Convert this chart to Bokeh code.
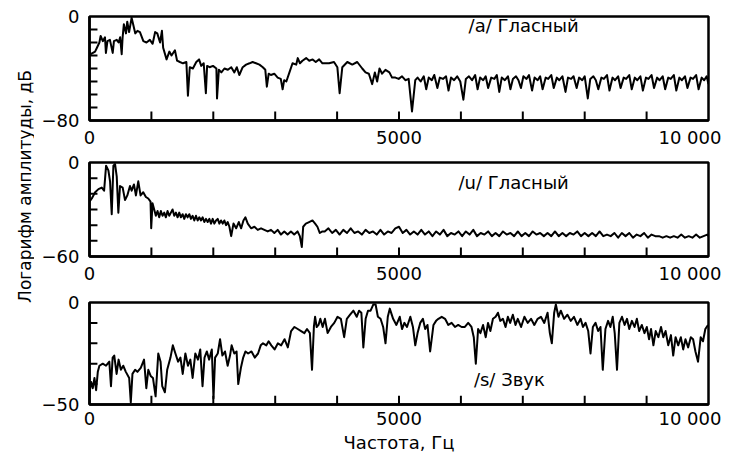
import math

from bokeh.core.properties import value
from bokeh.embed import file_html
from bokeh.layouts import column, row
from bokeh.models import FixedTicker, Label, Range1d
from bokeh.plotting import figure
from bokeh.resources import INLINE

FONT = "DejaVu Sans"

# Spectrum of the vowel /a/: frequency (Hz) and log amplitude (dB)
a_freq = [
    0, 20, 90, 120, 160, 180, 215, 250, 265, 290, 330, 375, 395, 440, 470, 495,
    520, 535, 555, 590, 610, 640, 680, 705, 740, 775, 815, 870, 920, 975, 1020,
    1060, 1095, 1140, 1170, 1190, 1245, 1290, 1325, 1380, 1415, 1460, 1510, 1565,
    1590, 1620, 1670, 1725, 1770, 1805, 1845, 1880, 1900, 1940, 1995, 2050, 2060,
    2090, 2130, 2180, 2235, 2290, 2340, 2380, 2420, 2475, 2530, 2585, 2635, 2690,
    2745, 2800, 2840, 2865, 2895, 2930, 2985, 3040, 3090, 3120, 3145, 3180, 3230,
    3280, 3340, 3365, 3400, 3440, 3500, 3550, 3605, 3655, 3710, 3763, 3870, 3950,
    4004, 4041, 4084, 4165, 4245, 4325, 4406, 4459, 4513, 4567, 4610, 4647, 4685,
    4727, 4781, 4845, 4888, 4942, 4995, 5049, 5103, 5156, 5210, 5263,
    5300, 5350, 5400, 5440, 5480, 5530, 5570, 5620, 5660, 5710, 5760, 5800, 5840,
    5890, 5940, 5990, 6040, 6080, 6130, 6180, 6230, 6270, 6310, 6360, 6400, 6440,
    6490, 6540, 6580, 6620, 6660, 6710, 6760, 6800, 6840, 6890, 6930, 6970, 7010,
    7060, 7100, 7150, 7190, 7240, 7280, 7320, 7370, 7410, 7460, 7500, 7550, 7590,
    7640, 7690, 7730, 7780, 7820, 7870, 7910, 7960, 8000, 8050, 8090, 8140, 8180,
    8220, 8270, 8310, 8360, 8400, 8450, 8490, 8540, 8580, 8630, 8670, 8720, 8760,
    8810, 8850, 8900, 8940, 8990, 9030, 9080, 9120, 9170, 9210, 9260, 9300, 9350,
    9390, 9440, 9480, 9530, 9570, 9620, 9660, 9710, 9750, 9800, 9840, 9890, 9930,
    9970, 10000,
]
a_db = [
    -27, -29, -27, -24, -20, -15, -19, -16, -28, -19, -18, -28, -19, -18, -20, -16,
    -29, -16, -6, -13, -4, -12, -1, -6, -13, -11, -12, -19, -20, -18, -21,
    -12, -13, -20, -11, -24, -33, -27, -30, -26, -34, -35, -36, -35,
    -61, -39, -40, -35, -33, -38, -36, -59, -38, -39, -38, -40, -63,
    -41, -43, -40, -41, -39, -43, -39, -45, -39, -37, -36, -35, -36,
    -37, -39, -41, -54, -44, -45, -44, -47, -48, -56, -49, -50, -43,
    -36, -37, -32, -36, -34, -32, -34, -33, -35, -33, -36, -36, -35,
    -39, -59, -39, -35, -37, -35, -40, -43, -44, -52, -43, -50, -40,
    -44, -41, -43, -47, -47, -48, -46, -49, -48, -73, -49,
    -47, -50, -46, -56, -47, -49, -45, -55, -47, -48, -46, -57, -47,
    -49, -46, -50, -64, -48, -46, -49, -45, -56, -47, -49, -46, -55,
    -47, -48, -45, -58, -47, -49, -46, -56, -48, -46, -49, -55, -46,
    -48, -45, -57, -47, -49, -46, -56, -47, -48, -45, -55, -47, -49,
    -46, -58, -47, -48, -46, -55, -47, -49, -46, -63, -48, -46, -49,
    -56, -47, -48, -45, -57, -47, -49, -46, -55, -47, -48, -45, -56,
    -47, -49, -46, -57, -47, -48, -45, -55, -47, -49, -46, -56, -47,
    -48, -45, -57, -47, -49, -46, -55, -47, -48, -45, -56, -47, -49,
    -46, -52,
]

# Spectrum of the vowel /u/
u_freq = [
    0, 37, 91, 145, 198, 236, 268, 305, 332, 359, 386, 413, 440, 466, 493, 536,
    574, 611, 654, 681, 718, 750, 788, 825, 868, 911, 949, 986, 997, 1018,
    1045, 1072, 1099, 1126, 1153, 1180, 1207, 1234, 1261, 1288, 1315, 1342, 1369,
    1396, 1423, 1450, 1477, 1504, 1531, 1558, 1585, 1612, 1639, 1666, 1693, 1720,
    1747, 1774, 1801, 1828, 1855, 1882, 1909, 1936, 1963, 1990, 2017, 2044, 2071,
    2098, 2125, 2152, 2179, 2206, 2233, 2260, 2289, 2326, 2369, 2412, 2450, 2487,
    2519, 2557, 2610, 2664, 2718, 2771, 2825, 2879, 2932, 2986, 3040, 3093, 3147,
    3200, 3254, 3307, 3361, 3398, 3430, 3452, 3495, 3548, 3602, 3645, 3682, 3720,
    3763, 3800, 3860, 3920, 3980, 4040, 4100, 4160, 4220, 4280, 4340, 4400, 4460,
    4520, 4580, 4640, 4700, 4760, 4820, 4880, 4940, 5000, 5060, 5120, 5180, 5240,
    5300, 5360, 5420, 5480, 5540, 5600, 5660, 5720, 5780, 5840, 5900, 5960, 6020,
    6080, 6140, 6200, 6260, 6320, 6380, 6440, 6500, 6560, 6620, 6680, 6740, 6800,
    6860, 6920, 6980, 7040, 7100, 7160, 7220, 7280, 7340, 7400, 7460, 7520, 7580,
    7640, 7700, 7760, 7820, 7880, 7940, 8000, 8060, 8120, 8180, 8240, 8300, 8360,
    8420, 8480, 8540, 8600, 8660, 8720, 8780, 8840, 8900, 8960, 9020, 9080, 9140,
    9200, 9260, 9320, 9380, 9440, 9500, 9560, 9620, 9680, 9740, 9800, 9860, 9920,
    9980, 10000,
]
u_db = [
    -25, -23, -19, -17, -16, -18, -2, -5, -12, -33, -2, -1, -9, -32, -15, -16,
    -24, -21, -15, -18, -14, -21, -12, -21, -19, -22, -23, -25, -42, -26,
    -30, -34, -31, -35, -31, -34, -32, -35, -31, -34, -32, -30, -34,
    -32, -35, -32, -35, -33, -36, -33, -35, -33, -36, -34, -37, -34,
    -37, -35, -37, -35, -38, -36, -38, -36, -39, -36, -39, -37, -36,
    -39, -37, -39, -37, -40, -38, -41, -47, -39, -42, -38, -42, -37,
    -35, -39, -42, -41, -43, -42, -43, -44, -43, -45, -43, -46, -44,
    -46, -44, -46, -44, -47, -54, -41, -39, -38, -37, -39, -41, -45,
    -44, -44, -42, -45, -43, -46, -43, -45, -42, -45, -44, -46, -43,
    -45, -44, -46, -43, -46, -44, -45, -42, -41, -45, -43, -46, -44,
    -46, -43, -46, -44, -47, -44, -46, -43, -47, -45, -46, -44, -47,
    -44, -46, -43, -47, -45, -46, -44, -47, -45, -47, -44, -46, -45,
    -47, -44, -47, -45, -47, -44, -46, -45, -47, -45, -47, -44, -47,
    -45, -47, -45, -46, -44, -47, -45, -47, -45, -47, -44, -47, -46,
    -47, -45, -48, -45, -47, -45, -48, -46, -47, -45, -48, -46, -47,
    -47, -48, -47, -48, -47, -48, -46, -48, -47, -48, -46, -48, -47,
    -46, -47,
]

# Spectrum of the fricative /s/
s_freq = [
    0, 15, 27, 53, 80, 107, 134, 160, 214, 267, 320, 347, 374, 400, 438, 470,
    507, 545, 587, 641, 667, 694, 737, 774, 828, 881, 918, 950, 988, 1025, 1068,
    1111, 1148, 1175, 1218, 1255, 1308, 1346, 1388, 1431, 1469, 1506, 1549, 1591,
    1629, 1666, 1709, 1752, 1789, 1826, 1858, 1896, 1933, 1976, 2003, 2029, 2072,
    2109, 2147, 2189, 2232, 2270, 2296, 2339, 2376, 2403, 2446, 2483, 2520, 2563,
    2617, 2670, 2723, 2766, 2803, 2857, 2894, 2937, 2990, 3044, 3097, 3151, 3204,
    3257, 3311, 3364, 3418, 3471, 3514, 3560, 3595, 3625, 3644, 3670, 3700, 3729,
    3767, 3804, 3847, 3900, 3954, 4007, 4061, 4114, 4157, 4210, 4264, 4317, 4355,
    4392, 4424, 4461, 4499, 4541, 4584, 4622, 4659, 4702, 4744, 4782, 4819, 4851,
    4905, 4958, 5012, 5049, 5087, 5129, 5183, 5225, 5263, 5300, 5343, 5386, 5423,
    5460, 5503, 5557, 5599, 5637, 5690, 5744, 5797, 5850, 5904, 5957, 6011, 6064,
    6118, 6171, 6208, 6241, 6278, 6315, 6358, 6401, 6438, 6476, 6518, 6561, 6599,
    6636, 6679, 6721, 6759, 6796, 6839, 6882, 6919, 6972, 7026, 7079, 7133, 7186,
    7240, 7293, 7347, 7400, 7437, 7469, 7507, 7534, 7576, 7614, 7667, 7721, 7774,
    7827, 7881, 7934, 7972, 8014, 8057, 8094, 8132, 8175, 8217, 8255, 8292, 8335,
    8378, 8415, 8453, 8485, 8522, 8560, 8602, 8645, 8683, 8720, 8763, 8805, 8843,
    8880, 8923, 8966, 9003, 9040, 9072, 9110, 9147, 9190, 9233, 9270, 9307, 9350,
    9393, 9430, 9468, 9511, 9553, 9591, 9628, 9671, 9714, 9751, 9789, 9831, 9874,
    9911, 9949, 9992,
]
s_db = [
    -45, -41, -39, -42, -37, -43, -34, -31, -30, -31, -29, -41, -27, -26, -35, -28,
    -33, -31, -34, -37, -49, -35, -33, -34, -32, -28, -42, -33, -36, -37, -46,
    -25, -29, -41, -44, -33, -27, -21, -25, -29, -27, -35, -25, -31,
    -28, -37, -25, -28, -23, -41, -27, -24, -28, -23, -47, -27, -25,
    -18, -26, -24, -31, -26, -21, -25, -24, -40, -32, -27, -24, -25,
    -24, -27, -25, -21, -20, -21, -19, -21, -23, -20, -21, -18, -22,
    -14, -12, -13, -14, -15, -13, -15, -33, -12, -7, -12, -11, -8,
    -12, -8, -15, -12, -10, -7, -8, -17, -8, -6, -4, -7, -4,
    -5, -22, -8, -4, -4, -1, -1, -7, -8, -12, -20, -7, -3,
    -8, -11, -7, -13, -10, -12, -7, -12, -21, -15, -10, -8, -13,
    -11, -24, -11, -9, -8, -7, -8, -11, -10, -12, -11, -12, -12,
    -10, -12, -17, -30, -13, -15, -11, -17, -10, -14, -8, -7, -5,
    -9, -8, -12, -7, -10, -6, -11, -8, -12, -7, -10, -8, -11,
    -8, -7, -10, -5, -15, -20, -5, -1, -7, -4, -8, -6, -9,
    -7, -11, -8, -12, -10, -14, -25, -12, -10, -14, -12, -33, -13,
    -9, -12, -7, -15, -33, -10, -7, -11, -8, -13, -9, -12, -8,
    -14, -11, -15, -12, -18, -13, -21, -14, -17, -12, -17, -14, -21,
    -16, -26, -17, -21, -17, -23, -18, -22, -17, -18, -24, -29, -17,
    -19, -13, -11,
]

# frequency axis: labelled positions and their texts; the last label sits
# flush with the right edge of the frame
x_label_pos = [0, 5000, 9700]
x_label_text = ["0", "5000", "10 000"]
# short inward marks every 1000 Hz
x_marks = [1000, 2000, 3000, 4000, 5000, 6000, 7000, 8000, 9000]

X_TICK_PX = 9   # length of the inward frequency marks
Y_TICK_PX = 8   # length of the inward level marks
TICK_HALF_PX = 1.0  # half thickness of a mark


def make_panel(freq, db, y_low, caption, cap_f, cap_db,
               left, right, top, frame_w, frame_h, bottom,
               tick_standoff, x_title=None):
    p = figure(
        width=left + frame_w + right,
        height=top + frame_h + bottom,
        x_range=Range1d(0, 10000),
        y_range=Range1d(y_low, 0),
        output_backend="svg",
        toolbar_location=None,
        min_border_left=left,
        min_border_right=right,
        min_border_top=top,
        min_border_bottom=bottom,
    )
    p.grid.visible = False
    p.outline_line_color = "black"
    p.outline_line_width = 2.5
    p.outline_line_alpha = 1.0

    for ax in (p.xaxis[0], p.yaxis[0]):
        ax.major_tick_in = 0
        ax.major_tick_out = 0
        ax.minor_tick_in = 0
        ax.minor_tick_out = 0
        ax.axis_line_width = 2.5
        ax.axis_line_color = "black"
        ax.major_label_text_font = FONT
        ax.major_label_text_font_size = "18px"
        ax.major_label_text_color = "black"

    xa = p.xaxis[0]
    xa.ticker = FixedTicker(ticks=x_label_pos)
    xa.major_label_overrides = dict(zip(x_label_pos, x_label_text))
    xa.major_label_standoff = tick_standoff
    if x_title:
        xa.axis_label = x_title
        xa.axis_label_text_font = FONT
        xa.axis_label_text_font_size = "18px"
        xa.axis_label_text_font_style = "normal"
        xa.axis_label_text_color = "black"
        xa.axis_label_standoff = 0

    ya = p.yaxis[0]
    ya.ticker = FixedTicker(ticks=[y_low, 0])
    ya.major_label_overrides = {y_low: "\u2212" + str(-y_low), 0: "0"}
    ya.major_label_standoff = 10

    p.line(freq, db, line_color="black", line_width=2.0, line_join="round")

    p.text(x=[cap_f], y=[cap_db], text=[caption],
           text_font=value(FONT), text_font_size="18px",
           text_align="center", text_baseline="middle", text_color="black")

    # inward tick marks as small filled bars standing on the frame edges
    hz_per_px = 10000 / frame_w
    db_per_px = (-y_low) / frame_h
    hw = TICK_HALF_PX * hz_per_px
    hh = TICK_HALF_PX * db_per_px
    y_marks = list(range(y_low + 10, 0, 10))
    p.quad(left=[f - hw for f in x_marks], right=[f + hw for f in x_marks],
           bottom=[y_low] * len(x_marks),
           top=[y_low + X_TICK_PX * db_per_px] * len(x_marks),
           fill_color="black", line_color=None)
    p.quad(left=[0] * len(y_marks),
           right=[Y_TICK_PX * hz_per_px] * len(y_marks),
           bottom=[d - hh for d in y_marks], top=[d + hh for d in y_marks],
           fill_color="black", line_color=None)
    return p


p1 = make_panel(a_freq, a_db, -80, "/a/  Гласный", 7059, -7,
                52, 23, 16, 622, 104, 30, 6)
p2 = make_panel(u_freq, u_db, -60, "/u/  Гласный", 6898, -12.6,
                52, 23, 12, 622, 94, 34, 6)
p3 = make_panel(s_freq, s_db, -50, "/s/  Звук", 6829, -37.5,
                55, 16, 12, 626, 104, 49, 3, x_title="Частота, Гц")

# shared vertical axis title
lab = figure(width=34, height=455, x_range=Range1d(0, 34),
             y_range=Range1d(455, 0), output_backend="svg",
             toolbar_location=None, min_border=0,
             x_axis_type=None, y_axis_type=None)
lab.outline_line_color = None
lab.add_layout(Label(x=24, y=186, text="Логарифм амплитуды, дБ",
                     angle=math.pi / 2, text_align="center",
                     text_baseline="middle", text_font=FONT,
                     text_font_size="17px", text_color="black"))

layout = row(lab, column(p1, p2, p3))

with open("out.html", "w") as f:
    f.write(file_html(layout, INLINE))
